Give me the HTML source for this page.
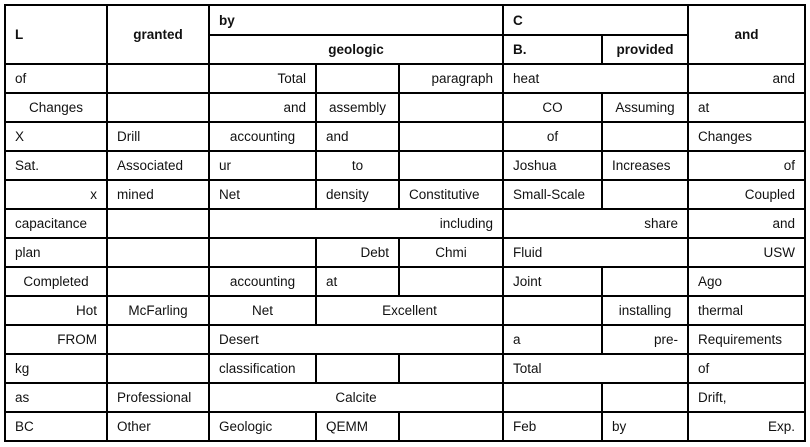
<!DOCTYPE html>
<html><head><meta charset="utf-8"><style>
html,body{margin:0;padding:0;background:#fff;width:810px;height:447px;overflow:hidden}
table{position:absolute;left:4px;top:4px;border-collapse:collapse;table-layout:fixed;font-family:"Liberation Sans",sans-serif;font-size:13.5px;color:#111}
td,th{border:2px solid #000;padding:0 9px;white-space:nowrap;overflow:hidden;text-align:left}
td{height:27px}
th{font-weight:bold}
.r{text-align:right}.c{text-align:center}
</style></head><body>
<table>
<colgroup><col style="width:102px"><col style="width:102px"><col style="width:107px"><col style="width:83px"><col style="width:104px"><col style="width:99px"><col style="width:86px"><col style="width:117px"></colgroup>
<tr style="height:30px"><th rowspan="2">L</th><th rowspan="2" class="c">granted</th><th colspan="3">by</th><th colspan="2">C</th><th rowspan="2" class="c">and</th></tr>
<tr style="height:29px"><th colspan="3" class="c">geologic</th><th>B.</th><th class="c">provided</th></tr>
<tr><td>of</td><td></td><td class="r">Total</td><td></td><td class="r">paragraph</td><td colspan="2">heat</td><td class="r">and</td></tr>
<tr><td class="c">Changes</td><td></td><td class="r">and</td><td class="c">assembly</td><td></td><td class="c">CO</td><td class="c">Assuming</td><td>at</td></tr>
<tr><td>X</td><td>Drill</td><td class="c">accounting</td><td>and</td><td></td><td class="c">of</td><td></td><td>Changes</td></tr>
<tr><td>Sat.</td><td>Associated</td><td>ur</td><td class="c">to</td><td></td><td>Joshua</td><td>Increases</td><td class="r">of</td></tr>
<tr><td class="r">x</td><td>mined</td><td>Net</td><td>density</td><td>Constitutive</td><td>Small-Scale</td><td></td><td class="r">Coupled</td></tr>
<tr><td>capacitance</td><td></td><td colspan="3" class="r">including</td><td colspan="2" class="r">share</td><td class="r">and</td></tr>
<tr><td>plan</td><td></td><td></td><td class="r">Debt</td><td class="c">Chmi</td><td colspan="2">Fluid</td><td class="r">USW</td></tr>
<tr><td class="c">Completed</td><td></td><td class="c">accounting</td><td>at</td><td></td><td>Joint</td><td></td><td>Ago</td></tr>
<tr><td class="r">Hot</td><td class="c">McFarling</td><td class="c">Net</td><td colspan="2" class="c">Excellent</td><td></td><td class="c">installing</td><td>thermal</td></tr>
<tr><td class="r">FROM</td><td></td><td colspan="3">Desert</td><td>a</td><td class="r">pre-</td><td>Requirements</td></tr>
<tr><td>kg</td><td></td><td>classification</td><td></td><td></td><td colspan="2">Total</td><td>of</td></tr>
<tr><td>as</td><td>Professional</td><td colspan="3" class="c">Calcite</td><td></td><td></td><td>Drift,</td></tr>
<tr><td>BC</td><td>Other</td><td>Geologic</td><td>QEMM</td><td></td><td>Feb</td><td>by</td><td class="r">Exp.</td></tr>
</table>
</body></html>
